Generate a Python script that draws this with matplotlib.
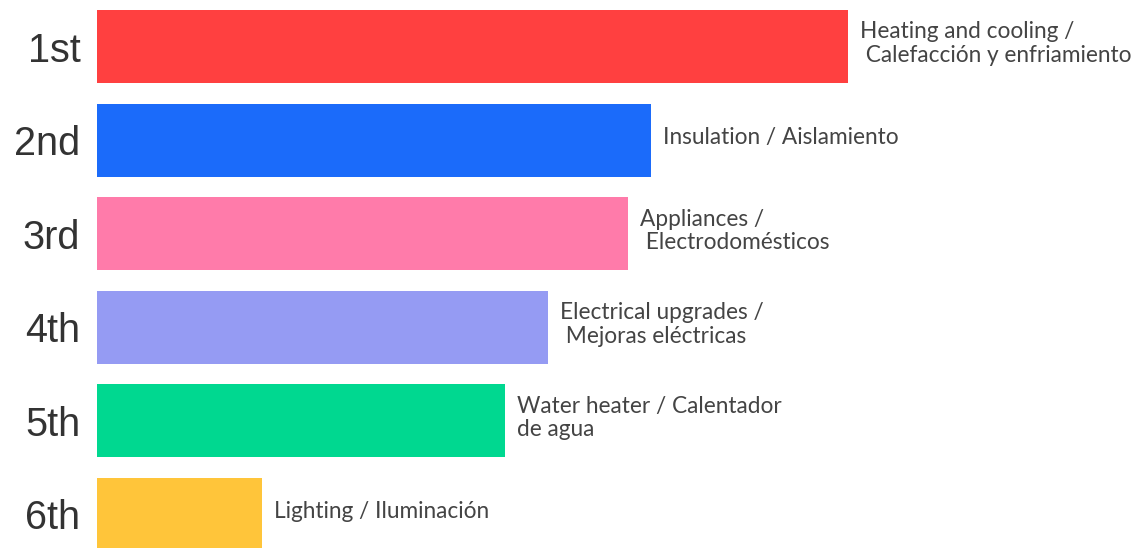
import matplotlib.pyplot as plt

ranks = ['1st', '2nd', '3rd', '4th', '5th', '6th']
labels = ['Heating and cooling /\n Calefacción y enfriamiento',
          'Insulation / Aislamiento',
          'Appliances /\n Electrodomésticos',
          'Electrical upgrades /\n Mejoras eléctricas',
          'Water heater / Calentador\nde agua',
          'Lighting / Iluminación']
# relative bar lengths (no axis shown)
scores = [751, 554, 531, 451, 408, 165]
colors = ['#FF4040', '#1B6BFA', '#FF7BAA', '#959BF3', '#00D890', '#FFC53A']

W, H = 1148, 548
fig = plt.figure(figsize=(W / 100, H / 100), dpi=100)
x0 = 97
ax = fig.add_axes([x0 / W, 0, 1 - x0 / W, 1])

pos = list(range(len(ranks)))
ax.barh(pos, scores, height=0.78, color=colors)
ax.set_xlim(0, W - x0)
ax.set_ylim(5.358, -0.497)

ax.set_yticks(pos)
ax.set_yticklabels(ranks, fontsize=28.5, color='#333333', family='Liberation Sans')
ax.tick_params(axis='y', length=0, pad=12)
ax.set_xticks([])
for s in ax.spines.values():
    s.set_visible(False)

for p, v, lab in zip(pos, scores, labels):
    ax.text(v + 12, p - 0.03, lab, va='center', ha='left', fontsize=16.3,
            color='#444444', family='Lato', linespacing=1.15)

fig.savefig('out.png', dpi=100, facecolor='white')
